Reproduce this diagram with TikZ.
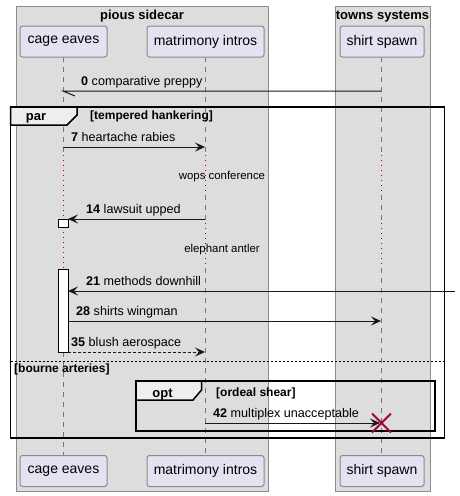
\documentclass[tikz,border=0pt]{standalone}
\usepackage{fontspec}
\setmainfont{Liberation Sans}
\usetikzlibrary{arrows.meta}
\definecolor{boxbg}{HTML}{DDDDDD}
\definecolor{boxline}{HTML}{8C8C8C}
\definecolor{partbg}{HTML}{E2E2F0}
\definecolor{partline}{HTML}{8A8A8A}
\definecolor{lifecol}{HTML}{777777}
\definecolor{delaycol}{HTML}{A80036}
\definecolor{tabbg}{HTML}{EEEEEE}
\definecolor{msgcol}{HTML}{181818}
\tikzset{
  grpbox/.style={fill=boxbg, draw=boxline, line width=1pt},
  grptitle/.style={font=\fontsize{13}{15}\selectfont\bfseries, anchor=base, inner sep=0},
  part/.style={fill=partbg, draw=partline, line width=1pt, rounded corners=2.5pt,
    minimum height=31pt, inner sep=0, font=\fontsize{14}{16}\selectfont},
  lifeline/.style={draw=lifecol, line width=1pt, dash pattern=on 5pt off 5pt},
  delayline/.style={draw=delaycol, line width=1pt, dash pattern=on 1pt off 4pt},
  msgline/.style={draw=msgcol, line width=1pt},
  msgarrow/.style={msgline, -{Stealth[length=10pt,width=9pt,inset=4pt]}},
  msglabel/.style={font=\fontsize{12.6}{14}\selectfont, anchor=base west, inner sep=0},
  delaylabel/.style={font=\fontsize{11.4}{13}\selectfont, anchor=base, inner sep=0},
  framebox/.style={draw=black, line width=1.5pt},
  tabbox/.style={fill=tabbg, draw=black, line width=1.5pt},
  tablabel/.style={font=\fontsize{13}{15}\selectfont\bfseries, anchor=base, inner sep=0},
  guardlabel/.style={font=\fontsize{12}{14}\selectfont\bfseries, anchor=base west, inner sep=0},
  actbox/.style={fill=white, draw=black, line width=1pt},
}
\begin{document}
\begin{tikzpicture}[x=1pt,y=-1pt]
\useasboundingbox (0,0) rectangle (459,496);
% group boxes
\draw[grpbox] (16,6) rectangle (268,491);
\draw[grpbox] (335,6) rectangle (430,491);
\node[grptitle] (t1) at (142,19.5) {pious sidecar};
\node[grptitle] (t2) at (382.5,19.5) {towns systems};

% lifelines
\foreach \x/\n in {63/c, 205/m, 381/s} {
  \coordinate (\n top) at (\x,57);
  \coordinate (\n bot) at (\x,455);
}
% matrimony and shirt
\foreach \x in {205,381} {
  \draw[lifeline] (\x,57) -- (\x,155);
  \draw[delayline] (\x,155) -- (\x,195);
  \draw[lifeline] (\x,195) -- (\x,223);
  \draw[delayline] (\x,223) -- (\x,268);
  \draw[lifeline] (\x,268) -- (\x,455);
}
% cage eaves
\draw[lifeline] (ctop) -- (63,155);
\draw[delayline] (63,155) -- (63,219);
\draw[delayline] (63,227) -- (63,269);
\draw[lifeline] (63,352) -- (cbot);

% participants
\node[part, minimum width=87pt] (c1) at (63.5,41.5) {cage eaves};
\node[part, minimum width=117pt] (m1) at (205.5,41.5) {matrimony intros};
\node[part, minimum width=84pt] (s1) at (382,41.5) {shirt spawn};
\node[part, minimum width=87pt] (c2) at (63.5,471) {cage eaves};
\node[part, minimum width=117pt] (m2) at (205.5,471) {matrimony intros};
\node[part, minimum width=84pt] (s2) at (382,471) {shirt spawn};

% activations
\draw[actbox] (58,219) rectangle (68,227);
\draw[actbox] (58,269) rectangle (68,352);

% par frame
\draw[framebox] (10.5,107) rectangle (444.5,438);
\draw[tabbox] (10.5,107) -- (77,107) -- (77,115) -- (67,125) -- (10.5,125) -- cycle;
\node[tablabel] (parl) at (36,120.5) {par};
\node[guardlabel] (g1) at (90,119.5) {[tempered hankering]};
\draw[draw=black, line width=1pt, dash pattern=on 2pt off 2pt] (10.5,361) -- (444.5,361);
\node[guardlabel] (g2) at (14,372) {[bourne arteries]};

% opt frame
\draw[framebox] (136,381) rectangle (435,431);
\draw[tabbox] (136,381) -- (201.5,381) -- (201.5,390) -- (193,400) -- (136,400) -- cycle;
\node[tablabel] (optl) at (162.5,397) {opt};
\node[guardlabel] (g3) at (216,396) {[ordeal shear]};

% message 0
\coordinate (m0a) at (381,91);
\coordinate (m0b) at (63,91);
\coordinate (m0h) at (75,96);
\draw[msgline] (m0a) -- (m0b) -- (m0h);
\node[msglabel] (l0) at (81,85) {\textbf{0} comparative preppy};

% message 7
\coordinate (m7a) at (63,147);
\coordinate (m7b) at (205,147);
\draw[msgarrow] (m7a) -- (m7b);
\node[msglabel] (l7) at (71,141) {\textbf{7} heartache rabies};

\node[delaylabel] (d1) at (222,179.5) {wops conference};

% message 14
\coordinate (m14a) at (205,219);
\coordinate (m14b) at (68,219);
\draw[msgarrow] (m14a) -- (m14b);
\node[msglabel] (l14) at (86,213) {\textbf{14} lawsuit upped};

\node[delaylabel] (d2) at (222,252.5) {elephant antler};

% message 21
\coordinate (m21a) at (455,291);
\coordinate (m21b) at (68,291);
\draw[msgarrow] (m21a) -- (m21b);
\node[msglabel] (l21) at (86,285) {\textbf{21} methods downhill};

% message 28
\coordinate (m28a) at (68,321);
\coordinate (m28b) at (381,321);
\draw[msgarrow] (m28a) -- (m28b);
\node[msglabel] (l28) at (76,315) {\textbf{28} shirts wingman};

% message 35
\coordinate (m35a) at (68,352);
\coordinate (m35b) at (205,352);
\draw[msgarrow, dash pattern=on 3pt off 2pt] (m35a) -- (m35b);
\node[msglabel] (l35) at (71,346) {\textbf{35} blush aerospace};

% message 42
\coordinate (m42a) at (205,423);
\coordinate (m42b) at (380,423);
\draw[msgarrow] (m42a) -- (m42b);
\node[msglabel] (l42) at (213,417) {\textbf{42} multiplex unacceptable};

% destroy
\coordinate (xc) at (381.5,423);
\draw[draw=delaycol, line width=2pt] ([shift={(-9.5,-9.5)}]xc) -- ([shift={(9.5,9.5)}]xc)
  ([shift={(-9.5,9.5)}]xc) -- ([shift={(9.5,-9.5)}]xc);
\end{tikzpicture}
\end{document}
